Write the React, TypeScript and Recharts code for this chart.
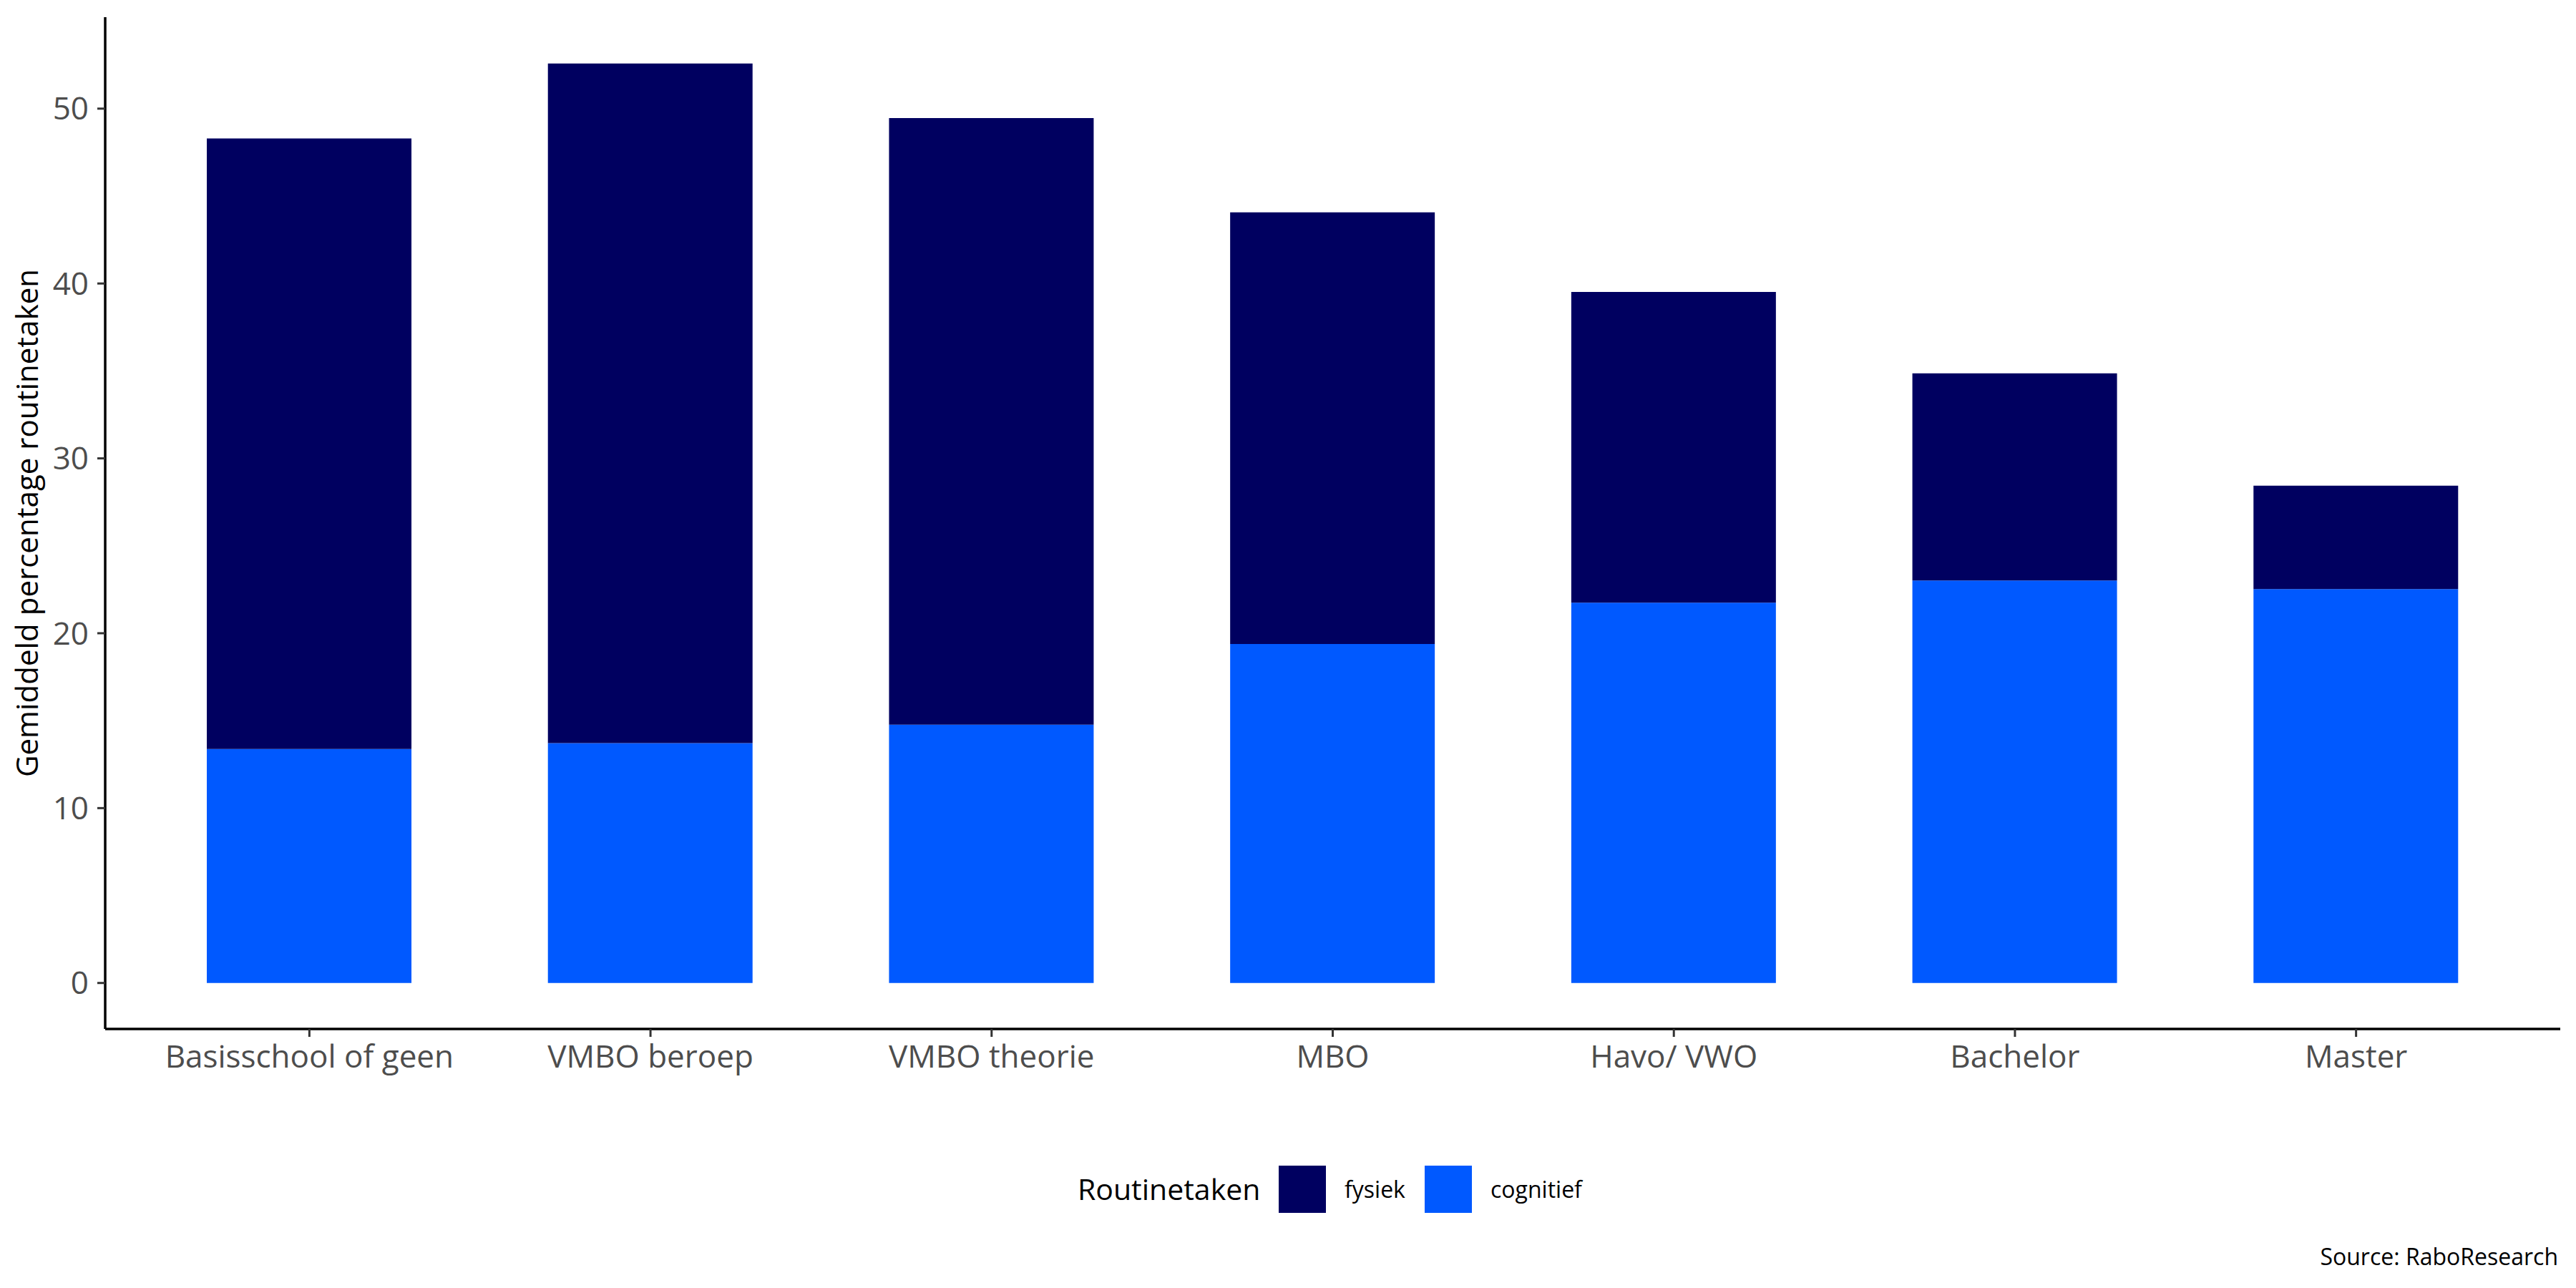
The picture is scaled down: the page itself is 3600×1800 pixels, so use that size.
import { BarChart, Bar, XAxis, YAxis } from 'recharts'

const categories = [
  'Basisschool of geen',
  'VMBO beroep',
  'VMBO theorie',
  'MBO',
  'Havo/ VWO',
  'Bachelor',
  'Master',
]

// stacked: cognitief at the bottom, fysiek on top
const cognitief = [13.38, 13.72, 14.77, 19.38, 21.75, 23.02, 22.53]
const fysiek = [34.91, 38.86, 34.69, 24.69, 17.77, 11.84, 5.91]

const yTicks = [0, 10, 20, 30, 40, 50]

const series = [
  { key: 'fysiek', label: 'fysiek', color: '#000060' },
  { key: 'cognitief', label: 'cognitief', color: '#0059FF' },
]

const data = categories.map((name, i) => ({
  name,
  cognitief: cognitief[i],
  fysiek: fysiek[i],
}))

const FONT = "'Open Sans', sans-serif"
const W = 3600
const H = 1800

export default function App() {
  return (
    <div style={{ position: 'absolute', left: 0, top: 0, width: W, height: H, background: '#fff', fontFamily: FONT }}>
      <BarChart
        width={W}
        height={H}
        data={data}
        margin={{ top: 24, right: 22, left: 0, bottom: 262 }}
      >
        <XAxis
          dataKey="name"
          height={100}
          padding={{ left: 47, right: 47 }}
          axisLine={{ stroke: '#000', strokeWidth: 3.5 }}
          tickLine={{ stroke: '#333', strokeWidth: 3 }}
          tickSize={11}
          tickMargin={12}
          interval={0}
          tick={{ fill: '#4D4D4D', fontSize: 44, fontFamily: FONT }}
        />
        <YAxis
          width={147}
          domain={[-2.63, 55.23]}
          allowDataOverflow
          ticks={yTicks}
          axisLine={{ stroke: '#000', strokeWidth: 3.5 }}
          tickLine={{ stroke: '#333', strokeWidth: 3 }}
          tickSize={11}
          tickMargin={12}
          tick={{ fill: '#4D4D4D', fontSize: 44, fontFamily: FONT }}
        />
        <Bar dataKey="cognitief" stackId="a" fill="#0059FF" barSize={286} isAnimationActive={false} />
        <Bar dataKey="fysiek" stackId="a" fill="#000060" barSize={286} isAnimationActive={false} />
      </BarChart>

      <svg
        width={W}
        height={H}
        style={{ position: 'absolute', left: 0, top: 0, pointerEvents: 'none' }}
        fontFamily={FONT}
      >
        <text
          x={53}
          y={731}
          transform="rotate(-90, 53, 731)"
          textAnchor="middle"
          fontSize={42}
          fill="#000"
        >
          Gemiddeld percentage routinetaken
        </text>

        <text x={1506} y={1677} fontSize={41} fill="#000">
          Routinetaken
        </text>
        {series.map((s, i) => {
          const x0 = 1787 + i * 204
          return (
            <g key={s.key}>
              <rect x={x0} y={1629} width={66} height={66} fill={s.color} />
              <text x={x0 + 92} y={1674} fontSize={32} fill="#000">
                {s.label}
              </text>
            </g>
          )
        })}

        <text x={3575} y={1768} textAnchor="end" fontSize={32} fill="#000">
          Source: RaboResearch
        </text>
      </svg>
    </div>
  )
}
